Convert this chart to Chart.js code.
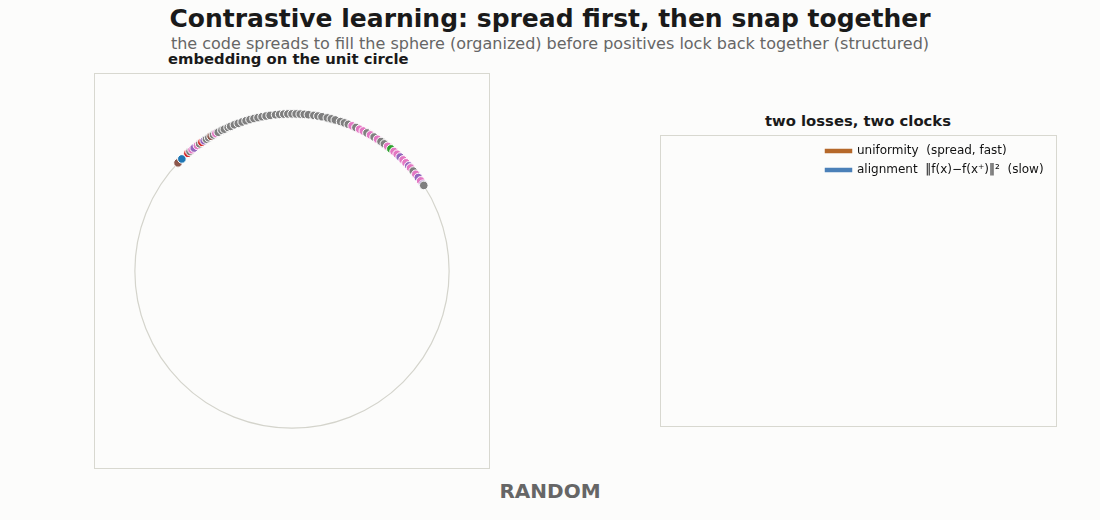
<!DOCTYPE html><html><head><meta charset="utf-8">
<script src="https://cdn.jsdelivr.net/npm/chart.js@4"></script>
<style>
body{margin:0;background:#fcfcfb;font-family:"DejaVu Sans",sans-serif;width:1100px;height:520px;position:relative;overflow:hidden}
.t{position:absolute;white-space:nowrap}
</style></head><body>
<div class="t" style="left:0;width:1100px;text-align:center;top:4px;font-size:25px;font-weight:bold;color:#1a1a1a">Contrastive learning: spread first, then snap together</div>
<div class="t" style="left:0;width:1100px;text-align:center;top:34px;font-size:16px;color:#666">the code spreads to fill the sphere (organized) before positives lock back together (structured)</div>
<div class="t" style="left:168px;top:50px;font-size:14.8px;font-weight:bold;color:#1a1a1a">embedding on the unit circle</div>
<div class="t" style="left:660px;width:396px;text-align:center;top:112px;font-size:14.8px;font-weight:bold;color:#1a1a1a">two losses, two clocks</div>
<div class="t" style="left:0;width:1100px;text-align:center;top:479px;font-size:20px;font-weight:bold;color:#666">RANDOM</div>
<div style="position:absolute;left:94px;top:73px;width:394px;height:394px;border:1px solid #d8d8d0"><canvas id="c1"></canvas></div>
<div style="position:absolute;left:660px;top:135px;width:395px;height:290px;border:1px solid #d8d8d0"><canvas id="c2"></canvas></div>
<script>
const angles=[136.5,134.5,131.5,130.5,129.5,128.5,127,126,125,124,123,122,121,120,119,118,116.5,115.5,114,113,111.5,110,108.5,107,105.5,104,102.5,101,99.5,98,96,94.5,93,91.5,90,88.5,87,85.5,84,82,80.5,79,77,75.5,74,72,70.5,69,67.5,66,64.5,63,61.5,60,58.5,57,55.5,54,52.5,51,49.5,48,46.5,45,43.5,42,41,39.5,38,36.5,35,33.5,33];
const colors=['#8c564b','#1f77b4','#d62728','#7f7f7f','#e377c2','#9467bd','#e377c2','#7f7f7f','#d62728','#9467bd','#7f7f7f','#7f7f7f','#8c564b','#7f7f7f','#e377c2','#7f7f7f','#7f7f7f','#7f7f7f','#7f7f7f','#7f7f7f','#7f7f7f','#7f7f7f','#7f7f7f','#7f7f7f','#7f7f7f','#7f7f7f','#7f7f7f','#7f7f7f','#7f7f7f','#7f7f7f','#7f7f7f','#7f7f7f','#7f7f7f','#7f7f7f','#7f7f7f','#7f7f7f','#7f7f7f','#7f7f7f','#7f7f7f','#7f7f7f','#7f7f7f','#7f7f7f','#7f7f7f','#7f7f7f','#7f7f7f','#7f7f7f','#7f7f7f','#7f7f7f','#e377c2','#7f7f7f','#e377c2','#e377c2','#7f7f7f','#e377c2','#7f7f7f','#e377c2','#7f7f7f','#7f7f7f','#e377c2','#2ca02c','#e377c2','#e377c2','#9467bd','#e377c2','#e377c2','#9467bd','#e377c2','#7f7f7f','#e377c2','#9467bd','#e377c2','#9467bd','#7f7f7f'];
const lossNames=['uniformity  (spread, fast)','alignment  \u2016f(x)\u2212f(x\u207a)\u2016\u00b2  (slow)'];
const lossColors=['#b5682a','#4a80b8'];
const pts=angles.map(a=>({x:Math.cos(a*Math.PI/180),y:Math.sin(a*Math.PI/180)}));
const circle={id:'circ',beforeDatasetsDraw(ch){const c=ch.ctx,xs=ch.scales.x,ys=ch.scales.y;const cx=xs.getPixelForValue(0),cy=ys.getPixelForValue(0),r=xs.getPixelForValue(1)-cx;c.save();c.strokeStyle='#d4d4cc';c.lineWidth=1.2;c.beginPath();c.arc(cx,cy,r,0,Math.PI*2);c.stroke();c.restore();}};
const hid={display:false};
new Chart(document.getElementById('c1'),{type:'scatter',data:{datasets:[{data:pts,backgroundColor:colors,borderColor:'#ffffff',borderWidth:1,pointRadius:4.3}]},
options:{responsive:true,maintainAspectRatio:false,animation:false,layout:{padding:0},plugins:{legend:hid,tooltip:{enabled:false}},
scales:{x:{display:false,min:-1.22,max:1.22},y:{display:false,min:-1.22,max:1.22}}},plugins:[circle]});
new Chart(document.getElementById('c2'),{type:'line',data:{labels:[],datasets:lossNames.map((n,i)=>({label:n,data:[],borderColor:lossColors[i],backgroundColor:lossColors[i],borderWidth:2.5}))},
options:{responsive:true,maintainAspectRatio:false,animation:false,layout:{padding:{left:158,top:2}},plugins:{tooltip:{enabled:false},legend:{position:'top',align:'start',maxWidth:240,fullSize:false,labels:{boxWidth:25,boxHeight:2,padding:7,color:'#111',font:{family:'DejaVu Sans',size:12}}}},
scales:{x:{display:false},y:{display:false}}}});
</script></body></html>
